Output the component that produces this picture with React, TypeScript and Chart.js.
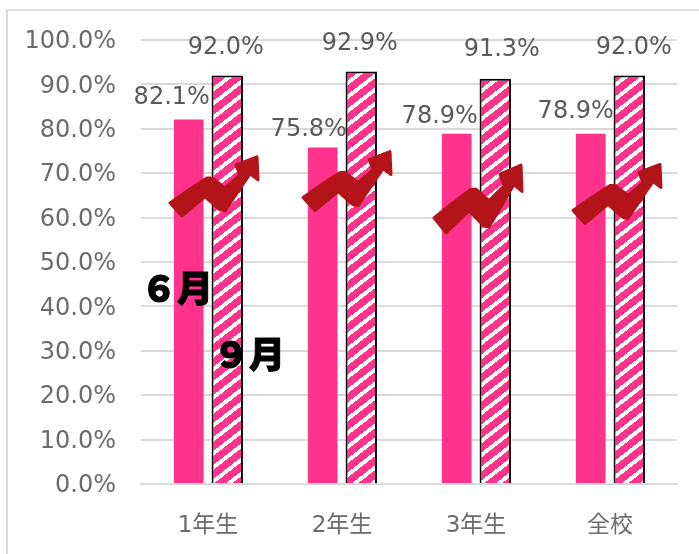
import React, { useEffect, useRef } from "react";
import { Chart, registerables } from "chart.js";

Chart.register(...registerables);

const categories = ["1年生", "2年生", "3年生", "全校"];
const june = [82.1, 75.8, 78.9, 78.9];
const september = [92.0, 92.9, 91.3, 92.0];
const juneName = "６月";
const septemberName = "９月";

const LABEL_FONT = '24px "DejaVu Sans", "Noto Sans CJK JP", sans-serif';
const TEXT_GREY = "#595959";
const AXIS_GREY = "#6b6b6b";
const GRID = "#d9d9d9";
const PINK = "#ff338c";
const ARROW = "#b3141a";

// px offset of each value label's centre from the top-centre of its bar
const juneLabelOffset = [[-17, -22], [-14, -18], [-17, -17], [-15, -22]];
const septLabelOffset = [[-1.5, -28], [-1.5, -28], [6.5, -28.5], [4.5, -28]];

// arrow outline in its own unit box (0..90, 0..62)
const arrowShape: [number, number][] = [
  [1, 47], [18, 35], [38, 22], [43, 22], [56, 32], [71, 19], [67, 9], [88, 1], [89, 24],
  [81, 18], [56, 55], [51, 54], [36, 41], [13, 60],
];
// [dx from category centre, top y value, scale y]
const arrowPlace = [
  [-39, 73.9, 1],
  [-40, 75.1, 1],
  [-43, 72.1, 1.15],
  [-38, 72.2, 1],
];

function stripes(): CanvasPattern | string {
  const w = 18;
  const h = 14;
  const c = document.createElement("canvas");
  c.width = w;
  c.height = h;
  const g = c.getContext("2d");
  if (!g) return PINK;
  for (let y = 0; y < h; y++) {
    for (let x = 0; x < w; x++) {
      const white = (x * h + y * w) % (w * h) < 5 * w;
      g.fillStyle = white ? "#ffffff" : PINK;
      g.fillRect(x, y, 1, 1);
    }
  }
  return g.createPattern(c, "repeat") ?? PINK;
}

const overlay = {
  id: "overlay",
  afterDatasetsDraw(chart: any) {
    const { ctx, scales } = chart;
    const a = chart.getDatasetMeta(0).data;
    const b = chart.getDatasetMeta(1).data;
    ctx.save();
    ctx.fillStyle = TEXT_GREY;
    ctx.font = LABEL_FONT;
    ctx.textAlign = "center";
    ctx.textBaseline = "middle";
    june.forEach((v, i) => {
      ctx.fillText(v.toFixed(1) + "%", a[i].x + juneLabelOffset[i][0], a[i].y + juneLabelOffset[i][1]);
    });
    september.forEach((v, i) => {
      ctx.fillText(v.toFixed(1) + "%", b[i].x + septLabelOffset[i][0], b[i].y + septLabelOffset[i][1]);
    });
    categories.forEach((_, i) => {
      const [dx, top, sy] = arrowPlace[i];
      const x0 = scales.x.getPixelForTick(i) + dx;
      const y0 = scales.y.getPixelForValue(top);
      ctx.fillStyle = ARROW;
      ctx.beginPath();
      arrowShape.forEach(([x, y], n) => {
        const px = x0 + x;
        const py = y0 + y * sy;
        if (n === 0) ctx.moveTo(px, py);
        else ctx.lineTo(px, py);
      });
      ctx.closePath();
      ctx.lineJoin = "round";
      ctx.strokeStyle = ARROW;
      ctx.lineWidth = 3;
      ctx.fill();
      ctx.stroke();
    });
    ctx.fillStyle = "#000000";
    ctx.strokeStyle = "#000000";
    ctx.lineWidth = 1;
    ctx.font = '900 36px "Noto Sans CJK JP", sans-serif';
    ctx.textAlign = "center";
    const jx = scales.x.getPixelForTick(0) - 31;
    const jy = scales.y.getPixelForValue(44.1);
    const sx = scales.x.getPixelForTick(0) + 41;
    const sy = scales.y.getPixelForValue(29.3);
    ctx.fillText(juneName, jx, jy);
    ctx.strokeText(juneName, jx, jy);
    ctx.fillText(septemberName, sx, sy);
    ctx.strokeText(septemberName, sx, sy);
    ctx.restore();
  },
};

const frame = {
  id: "frame",
  beforeDraw(chart: any) {
    const { ctx, width, height } = chart;
    ctx.save();
    ctx.fillStyle = "#ffffff";
    ctx.fillRect(0, 0, width, height);
    ctx.strokeStyle = GRID;
    ctx.lineWidth = 2;
    ctx.beginPath();
    ctx.moveTo(7, height);
    ctx.lineTo(7, 10);
    ctx.lineTo(width, 10);
    ctx.stroke();
    ctx.restore();
  },
};

export default function App() {
  const ref = useRef<HTMLCanvasElement>(null);
  useEffect(() => {
    if (!ref.current) return;
    const chart = new Chart(ref.current, {
      type: "bar",
      data: {
        labels: categories,
        datasets: [
          { label: juneName, data: june, backgroundColor: PINK, categoryPercentage: 0.575, barPercentage: 0.77 },
          {
            label: septemberName,
            data: september,
            backgroundColor: stripes() as any,
            borderColor: "#000000",
            borderWidth: 2,
            borderSkipped: "bottom",
            categoryPercentage: 0.575,
            barPercentage: 0.815,
          },
        ],
      },
      options: {
        responsive: false,
        animation: false,
        devicePixelRatio: 1,
        layout: { padding: { top: 40, right: 22, left: 0, bottom: 0 } },
        plugins: { legend: { display: false }, tooltip: { enabled: false } },
        scales: {
          x: {
            grid: { display: false, drawTicks: false },
            border: { color: GRID, width: 2 },
            ticks: { color: AXIS_GREY, padding: 28, font: { size: 23, family: '"DejaVu Sans", "Noto Sans CJK JP", sans-serif' } },
            afterFit: (s: any) => { s.height = 70; },
          },
          y: {
            min: 0,
            max: 100,
            grid: { color: GRID, lineWidth: 2, drawTicks: false },
            border: { display: false },
            ticks: {
              stepSize: 10,
              padding: 25,
              labelOffset: 2,
              color: AXIS_GREY,
              font: { size: 24, family: '"DejaVu Sans", sans-serif' },
              callback: (v: any) => Number(v).toFixed(1) + "%",
            },
            afterFit: (s: any) => { s.width = 141; },
          },
        },
      },
      plugins: [frame, overlay],
    } as any);
    return () => chart.destroy();
  }, []);
  return (
    <div style={{ position: "absolute", left: 0, top: 0, width: 699, height: 554 }}>
      <canvas ref={ref} width={699} height={554} style={{ display: "block" }} />
    </div>
  );
}
